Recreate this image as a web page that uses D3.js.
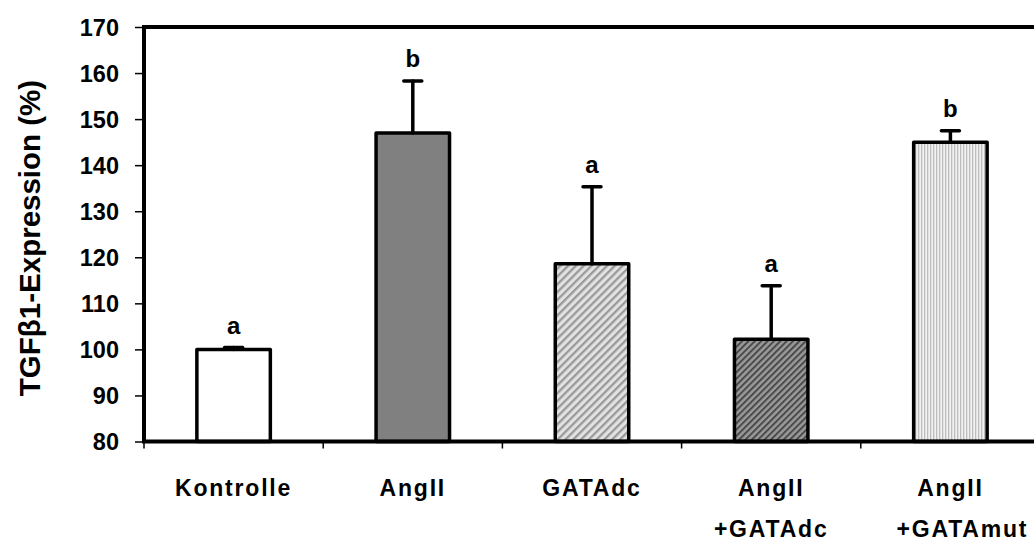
<!DOCTYPE html>
<html>
<head>
<meta charset="utf-8">
<script src="https://cdn.jsdelivr.net/npm/d3@7"></script>
<style>
  html, body { margin: 0; padding: 0; background: #fff; }
  svg { display: block; }
  text { font-family: "Liberation Sans", Arial, sans-serif; font-weight: bold; fill: #000; }
</style>
</head>
<body>
<svg id="chart" width="1034" height="541"></svg>
<script>
// Groups, means, standard deviations and significance letters
const groups = [["Kontrolle"], ["AngII"], ["GATAdc"], ["AngII", "+GATAdc"], ["AngII", "+GATAmut"]];
const means = [100, 147, 118.6, 102.2, 145];
const sds = [0.4, 11.3, 16.7, 11.6, 2.5];
const letters = ["a", "b", "a", "a", "b"];
const yTicks = [80, 90, 100, 110, 120, 130, 140, 150, 160, 170];
const fills = ["#ffffff", "#808080", "url(#hatchLight)", "url(#hatchDark)", "url(#vertLight)"];

const svg = d3.select("#chart");
const plotLeft = 144, plotTop = 27, plotRight = 1040, plotBottom = 441.5;

const x = d3.scaleBand().domain(d3.range(groups.length)).range([plotLeft, plotRight]).paddingInner(0.59).paddingOuter(0.295);
const y = d3.scaleLinear().domain([80, 170]).range([plotBottom, plotTop]);

// Fill patterns
const defs = svg.append("defs");
const p1 = defs.append("pattern").attr("id", "hatchLight").attr("patternUnits", "userSpaceOnUse")
  .attr("width", 5.5).attr("height", 5.5).attr("patternTransform", "rotate(45)");
p1.append("rect").attr("width", 5.5).attr("height", 5.5).attr("fill", "#e2e2e2");
p1.append("rect").attr("width", 2.3).attr("height", 5.5).attr("fill", "#999999");

const p2 = defs.append("pattern").attr("id", "hatchDark").attr("patternUnits", "userSpaceOnUse")
  .attr("width", 4.5).attr("height", 4.5).attr("patternTransform", "rotate(45)");
p2.append("rect").attr("width", 4.5).attr("height", 4.5).attr("fill", "#9a9a9a");
p2.append("rect").attr("width", 2).attr("height", 4.5).attr("fill", "#4a4a4a");

const p3 = defs.append("pattern").attr("id", "vertLight").attr("patternUnits", "userSpaceOnUse")
  .attr("width", 3).attr("height", 3);
p3.append("rect").attr("width", 3).attr("height", 3).attr("fill", "#f2f2f2");
p3.append("rect").attr("width", 1.3).attr("height", 3).attr("fill", "#bdbdbd");

// Bars
svg.append("g").selectAll("rect").data(means).join("rect")
  .attr("x", (d, i) => x(i))
  .attr("y", d => y(d))
  .attr("width", x.bandwidth())
  .attr("height", d => y(80) - y(d))
  .attr("fill", (d, i) => fills[i])
  .attr("stroke", "#000").attr("stroke-width", 3.5).attr("stroke-linejoin", "round");

// Error bars (upper only)
const eb = svg.append("g").attr("stroke", "#000").attr("stroke-width", 3.5).attr("stroke-linecap", "round");
means.forEach((m, i) => {
  const cx = x(i) + x.bandwidth() / 2;
  eb.append("line").attr("x1", cx).attr("x2", cx).attr("y1", y(m)).attr("y2", y(m + sds[i]));
  eb.append("line").attr("x1", cx - 9).attr("x2", cx + 9).attr("y1", y(m + sds[i])).attr("y2", y(m + sds[i]));
});

// Significance letters
svg.append("g").selectAll("text").data(letters).join("text")
  .attr("x", (d, i) => x(i) + x.bandwidth() / 2)
  .attr("y", (d, i) => y(means[i] + sds[i]) - 14)
  .attr("text-anchor", "middle").attr("font-size", 24)
  .text(d => d);

// Y axis
const yAxis = svg.append("g").attr("transform", `translate(${plotLeft},0)`)
  .call(d3.axisLeft(y).tickValues(yTicks).tickSize(9).tickPadding(16));
yAxis.select(".domain").remove();
yAxis.selectAll(".tick line").attr("stroke-width", 1.5);
yAxis.selectAll(".tick text").attr("font-size", 23.5).attr("font-family", "Liberation Sans, Arial, sans-serif").attr("font-weight", "bold").attr("dy", "0.36em");

// X axis ticks at group boundaries
const bounds = d3.range(groups.length + 1).map(i => plotLeft + i * x.step());
svg.append("g").selectAll("line").data(bounds).join("line")
  .attr("x1", d => d).attr("x2", d => d).attr("y1", plotBottom).attr("y2", plotBottom + 7)
  .attr("stroke", "#000").attr("stroke-width", 1.5);

// Plot frame
svg.append("path")
  .attr("d", `M${plotRight},${plotTop}H${plotLeft}V${plotBottom}H${plotRight}`)
  .attr("fill", "none").attr("stroke", "#000").attr("stroke-width", 4);

// Group labels (the last two-line label sits a little right of its bar)
const labelShift = [0, 0, 0, 0, 12];
const xl = svg.append("g").attr("text-anchor", "middle").attr("font-size", 23).attr("letter-spacing", 1.8);
groups.forEach((g, i) => {
  const cx = x(i) + x.bandwidth() / 2;
  const t = xl.append("text");
  g.forEach((line, j) => t.append("tspan")
    .attr("x", cx + (j > 0 ? labelShift[i] : 0))
    .attr("y", 496 + j * 41).text(line));
});

// Y axis title
svg.append("text")
  .attr("transform", "translate(40,238) rotate(-90)")
  .attr("text-anchor", "middle").attr("font-size", 29.5)
  .text("TGFβ1-Expression (%)");
</script>
</body>
</html>
